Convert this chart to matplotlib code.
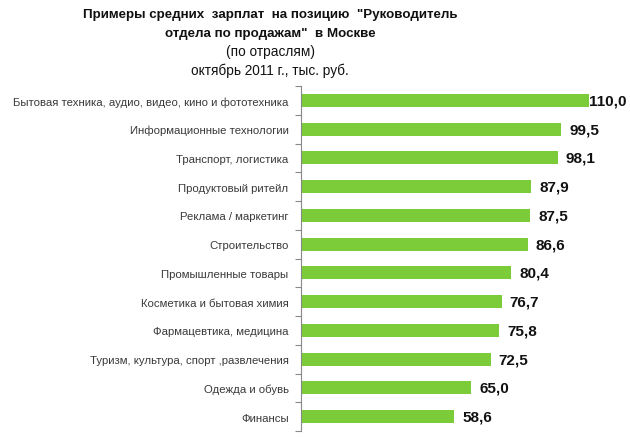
import matplotlib
matplotlib.use("Agg")
import matplotlib.pyplot as plt
from matplotlib import font_manager

categories = [
    "Бытовая техника, аудио, видео, кино и фототехника",
    "Информационные технологии",
    "Транспорт, логистика",
    "Продуктовый ритейл",
    "Реклама / маркетинг",
    "Строительство",
    "Промышленные товары",
    "Косметика и бытовая химия",
    "Фармацевтика, медицина",
    "Туризм, культура, спорт ,развлечения",
    "Одежда и обувь",
    "Финансы",
]
values = [110.0, 99.5, 98.1, 87.9, 87.5, 86.6, 80.4, 76.7, 75.8, 72.5, 65.0, 58.6]
value_labels = ["110,0", "99,5", "98,1", "87,9", "87,5", "86,6", "80,4", "76,7", "75,8", "72,5", "65,0", "58,6"]

names = {f.name for f in font_manager.fontManager.ttflist}
narrow = "Liberation Sans Narrow" if "Liberation Sans Narrow" in names else "Liberation Sans"
plt.rcParams['font.family'] = ['Liberation Sans', 'DejaVu Sans']

fig = plt.figure(figsize=(6.3, 4.39), dpi=100)
W, H = 630, 439
left, right, top, bottom = 301, 630, 87, 432
ax = fig.add_axes([left / W, 1 - bottom / H, (right - left) / W, (bottom - top) / H])

n = len(categories)
ypos = list(range(n))
ax.barh(ypos, values, height=0.46, color="#7ccc3a", edgecolor="none", zorder=2)
ax.set_ylim(n - 0.5, -0.5)
xmax = (right - left) / 2.618
ax.set_xlim(0, xmax)

fig.canvas.draw()
renderer = fig.canvas.get_renderer()
gap = 8 / 2.618
for y, v, lab in zip(ypos, values, value_labels):
    t = ax.text(v + gap, y, lab, va="center", ha="left", fontsize=11, fontweight="bold", color="#111111")
    bb = t.get_window_extent(renderer)
    limit = fig.bbox.width - 4
    if bb.x1 > limit:
        shift_px = bb.x1 - limit
        t.set_x(v + gap - shift_px / 2.618)

ax.set_yticks(ypos)
ax.set_yticklabels(categories, fontsize=8.2, color="#3a3a3a", family=[narrow, 'DejaVu Sans'])
ax.tick_params(axis='y', length=0, pad=9)
ax.set_yticks([i - 0.5 for i in range(n + 1)], minor=True)
ax.tick_params(axis='y', which='minor', length=4, color="#888888", width=0.8)
ax.set_xticks([])
for s in ["top", "right", "bottom"]:
    ax.spines[s].set_visible(False)
ax.spines["left"].set_color("#888888")
ax.spines["left"].set_linewidth(0.8)

cx = 270 / W
fig.text(cx, 1 - 15 / H, 'Примеры средних  зарплат  на позицию  "Руководитель', ha="center", va="center",
         fontsize=9.6, fontweight="bold", color="#111111")
fig.text(cx, 1 - 34 / H, 'отдела по продажам"  в Москве', ha="center", va="center",
         fontsize=9.6, fontweight="bold", color="#111111")
fig.text(cx, 1 - 52 / H, '(по отраслям)', ha="center", va="center", fontsize=9.8, color="#111111")
fig.text(cx, 1 - 71 / H, 'октябрь 2011 г., тыс. руб.', ha="center", va="center", fontsize=9.8, color="#111111")

fig.savefig("out.png", dpi=100)
